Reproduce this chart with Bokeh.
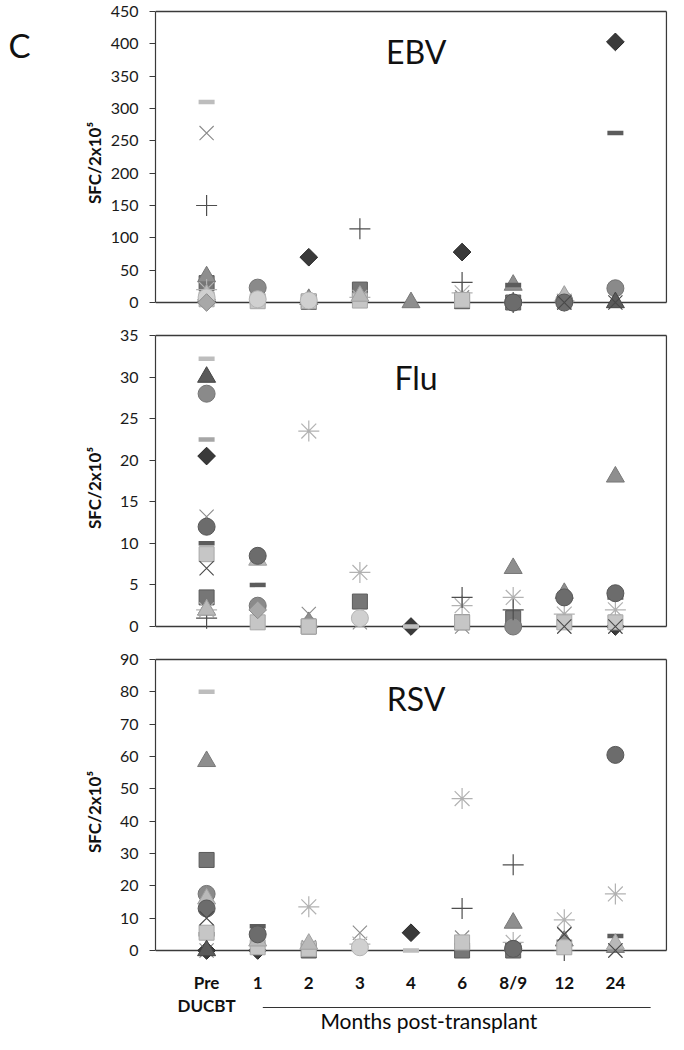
import math
from bokeh.plotting import figure
from bokeh.layouts import column, row
from bokeh.models import FixedTicker, Label, ColumnDataSource, Range1d
from bokeh.core.properties import value
from bokeh.embed import file_html
from bokeh.resources import INLINE

# ---------------- data ----------------
timepoints = ["Pre", "1", "2", "3", "4", "6", "8/9", "12", "24"]
x_positions = [1, 2, 3, 4, 5, 6, 7, 8, 9]
panel_names = ["EBV", "Flu", "RSV"]
y_max = [450, 35, 90]
y_step = [50, 5, 10]
N = None

# EBV (SFC/2x10^5), one list per patient, one value per timepoint
ebv_p01 = [2, N, 70, N, N, 78, N, N, 403]
ebv_p02 = [30, N, 1, 20, N, 2, 0, N, N]
ebv_p03 = [40, N, 5, N, 0, N, 27, 8, N]
ebv_p04 = [262, N, N, 5, N, 8, N, 0, N]
ebv_p05 = [20, N, N, 8, N, 15, N, 2, N]
ebv_p06 = [N, 23, N, N, N, N, 0, 3, 22]
ebv_p07 = [150, N, N, 114, N, 31, 0, N, N]
ebv_p08 = [310, 0, N, N, N, 0, N, N, N]
ebv_p09 = [5, N, N, N, N, N, 27, N, 262]
ebv_p10 = [5, 2, 2, 3, N, 4, N, N, N]
ebv_p11 = [12, N, N, 10, N, N, N, 10, N]
ebv_p12 = [N, N, N, N, N, N, N, N, 0]
ebv_p13 = [N, N, N, N, N, N, 0, 0, N]
ebv_p14 = [8, 5, 3, N, N, N, N, N, N]
ebv_p15 = [0, N, N, N, N, N, N, N, N]
ebv_p16 = [N, N, N, N, N, N, N, 0, 0]
ebv_p17 = [N, N, N, N, N, N, N, N, N]

# Flu
flu_p01 = [20.5, N, N, N, 0, N, N, N, 0]
flu_p02 = [3.5, N, 0, 3, N, 0.5, 1, N, N]
flu_p03 = [2, N, 0.5, N, N, N, 7, 4, 18]
flu_p04 = [13.2, N, 1.5, 0.5, N, 0, N, 0, 0]
flu_p05 = [2, N, 23.5, 6.5, N, 2.5, 3.5, 1.5, 2]
flu_p06 = [28, 2.5, N, N, N, N, 0, N, N]
flu_p07 = [1, N, N, N, N, 3.5, 2, N, N]
flu_p08 = [32.2, N, N, N, 0, 0.5, N, N, N]
flu_p09 = [10, 5, N, N, N, N, N, N, 3.5]
flu_p10 = [8.7, 0.5, 0, N, N, 0.5, N, 0.5, 0.5]
flu_p11 = [2, 8, N, N, N, N, N, N, N]
flu_p12 = [30, N, N, N, N, N, N, N, N]
flu_p13 = [12, 8.5, N, N, N, N, N, 3.5, 4]
flu_p14 = [N, N, N, 1, N, N, N, N, N]
flu_p15 = [N, 2, N, N, N, N, N, N, N]
flu_p16 = [7, N, N, N, N, N, N, 0, 0]
flu_p17 = [22.5, N, N, N, N, N, N, N, N]

# RSV
rsv_p01 = [0, 0, N, N, 5.5, N, N, N, N]
rsv_p02 = [28, N, 0, N, N, 0, 0, N, N]
rsv_p03 = [58.5, N, N, N, N, N, 8.5, 3, 1]
rsv_p04 = [0, N, 1, 5.5, N, 4, N, 5, 0]
rsv_p05 = [N, N, 13.5, 2, N, 47, 2.5, 9.5, 17.5]
rsv_p06 = [17.5, N, N, N, N, N, 0.5, N, N]
rsv_p07 = [N, N, N, N, N, 13, 26.5, 0, N]
rsv_p08 = [80, N, N, N, 0, 1, N, N, N]
rsv_p09 = [5, 7.5, N, N, N, N, N, N, 4.5]
rsv_p10 = [5.5, 1, 0.5, N, N, 2.5, N, 1, N]
rsv_p11 = [16, 3, 2, N, N, N, N, N, 2]
rsv_p12 = [0, N, N, N, N, N, N, N, N]
rsv_p13 = [13, 5, N, N, N, N, 0.5, N, 60.5]
rsv_p14 = [N, N, N, 1, N, N, N, N, N]
rsv_p15 = [N, N, N, N, N, N, N, N, N]
rsv_p16 = [10, N, N, N, N, N, N, 5, 0]
rsv_p17 = [N, N, N, N, N, N, N, N, N]

ebv_series = [ebv_p01, ebv_p02, ebv_p03, ebv_p04, ebv_p05, ebv_p06, ebv_p07, ebv_p08, ebv_p09,
              ebv_p10, ebv_p11, ebv_p12, ebv_p13, ebv_p14, ebv_p15, ebv_p16, ebv_p17]
flu_series = [flu_p01, flu_p02, flu_p03, flu_p04, flu_p05, flu_p06, flu_p07, flu_p08, flu_p09,
              flu_p10, flu_p11, flu_p12, flu_p13, flu_p14, flu_p15, flu_p16, flu_p17]
rsv_series = [rsv_p01, rsv_p02, rsv_p03, rsv_p04, rsv_p05, rsv_p06, rsv_p07, rsv_p08, rsv_p09,
              rsv_p10, rsv_p11, rsv_p12, rsv_p13, rsv_p14, rsv_p15, rsv_p16, rsv_p17]

# ---------------- styles (marker, angle, fill, line, size, line width) ----------------
D45 = math.pi / 4
styles = [
    ("square", D45, "#3a3a3a", "#262626", 12.5, 1.0),    # p01 diamond dark
    ("square", 0, "#767676", "#5a5a5a", 15, 1.0),        # p02 square
    ("triangle", 0, "#8e8e8e", "#787878", 18, 1.0),      # p03 triangle
    ("x", 0, None, "#8a8a8a", 20, 1.1),                  # p04 x
    ("asterisk", 0, None, "#b2b2b2", 21, 1.2),           # p05 asterisk
    ("circle", 0, "#8a8a8a", "#747474", 17, 1.0),        # p06 circle
    ("cross", 0, None, "#4e4e4e", 21, 1.2),              # p07 plus
    ("dash", 0, None, "#bdbdbd", 16, 4.5),               # p08 dash light
    ("dash", 0, None, "#5c5c5c", 16, 4.5),               # p09 dash dark
    ("square", 0, "#c6c6c6", "#a8a8a8", 15, 1.0),        # p10 square light
    ("triangle", 0, "#b9b9b9", "#a0a0a0", 18, 1.0),      # p11 triangle light
    ("triangle", 0, "#5a5a5a", "#444444", 18, 1.0),      # p12 triangle dark
    ("circle", 0, "#6c6c6c", "#575757", 17, 1.0),        # p13 circle dark
    ("circle", 0, "#d0d0d0", "#b4b4b4", 17, 1.0),        # p14 circle light
    ("square", D45, "#a8a8a8", "#8c8c8c", 12.5, 1.0),    # p15 diamond light
    ("x", 0, None, "#484848", 20, 1.1),                  # p16 x dark
    ("dash", 0, None, "#a6a6a6", 16, 4.5),               # p17 dash mid
]

FONT = "Lato"
W_TOTAL = 668
W_C = 40                  # narrow strip holding the panel letter
W = W_TOTAL - W_C
LEFT = 115                # frame left at picture x = 155
RIGHT = 1
X_END = 10.02
X_FRAME = 10.0

x_shared = Range1d(0, X_END)


def make_panel(name, series, ymax, ystep, height, border_top, ext_px,
               title_y, label_standoff):
    pad = 2
    frame_h = height - border_top
    pxu = (frame_h - ext_px - pad) / ymax
    y0 = -ext_px / pxu
    y1 = ymax + pad / pxu
    p = figure(width=W, height=height, x_range=x_shared, y_range=(y0, y1),
               output_backend="svg", toolbar_location=None, x_axis_location=None,
               min_border_left=LEFT, min_border_right=RIGHT,
               min_border_top=border_top, min_border_bottom=0)
    p.outline_line_color = None
    p.xgrid.visible = False
    p.ygrid.visible = False

    ya = p.yaxis[0]
    ya.ticker = FixedTicker(ticks=list(range(0, ymax + ystep, ystep)))
    ya.bounds = (0, ymax)
    ya.axis_line_color = "#3a3a3a"
    ya.axis_line_width = 1.2
    ya.major_tick_line_color = "#3a3a3a"
    ya.major_tick_out = 6
    ya.major_tick_in = 0
    ya.minor_tick_out = 0
    ya.minor_tick_in = 0
    ya.major_label_text_font = FONT
    ya.major_label_text_font_size = "16px"
    ya.major_label_text_color = "#1a1a1a"
    ya.major_label_standoff = 11
    ya.axis_label = "SFC/2x10\u2075"
    ya.axis_label_text_font = FONT
    ya.axis_label_text_font_size = "17px"
    ya.axis_label_text_font_style = "bold"
    ya.axis_label_text_color = "#111111"
    ya.axis_label_standoff = label_standoff

    # frame lines (zero line, top, right)
    p.segment(x0=[0, 0, X_FRAME], y0=[0, ymax, 0], x1=[X_FRAME, X_FRAME, X_FRAME],
              y1=[0, ymax, ymax], line_color="#3a3a3a", line_width=1.3)

    for values, (mk, ang, fill, line, size, lw) in zip(series, styles):
        xs = [x for x, v in zip(x_positions, values) if v is not None]
        ys = [v for v in values if v is not None]
        if not xs:
            continue
        src = ColumnDataSource(dict(x=xs, y=ys))
        p.scatter("x", "y", source=src, marker=mk, size=size, angle=ang,
                  fill_color=fill, line_color=line, line_width=lw)

    p.add_layout(Label(x=5.1, y=title_y, text=name, text_font=FONT, text_font_size="32px",
                       text_color="#111111", text_align="center", text_baseline="middle"))
    return p


# picture layout: panel1 0..316, panel2 316..642, panel3 642..966, x labels 966..1034
p1 = make_panel(panel_names[0], ebv_series, y_max[0], y_step[0], 316, 9, 14, 388, 3)
p2 = make_panel(panel_names[1], flu_series, y_max[1], y_step[1], 326, 17, 16, 30.0, 12)
p3 = make_panel(panel_names[2], rsv_series, y_max[2], y_step[2], 324, 15, 16, 78.0, 12)

# x labels strip (shares the x scale of the panels); y is pixels up from the strip bottom
HB = 68
pb = figure(width=W, height=HB, x_range=x_shared, y_range=(0, HB),
            output_backend="svg", toolbar_location=None,
            x_axis_location=None, y_axis_location=None,
            min_border_left=LEFT, min_border_right=RIGHT, min_border_top=0, min_border_bottom=0)
pb.outline_line_color = None
pb.xgrid.visible = False
pb.ygrid.visible = False
pb.text(x=x_positions, y=[HB - 16] * len(x_positions), text=timepoints,
        text_font=value(FONT), text_font_size=value("17px"), text_font_style=value("bold"),
        text_color="#111111", text_align="center", text_baseline="middle")
pb.text(x=[x_positions[0]], y=[HB - 39], text=["DUCBT"],
        text_font=value(FONT), text_font_size=value("17px"), text_font_style=value("bold"),
        text_color="#111111", text_align="center", text_baseline="middle")
pb.segment(x0=[2.10], y0=[HB - 41], x1=[9.69], y1=[HB - 41], line_color="#333333", line_width=1.1)
pb.text(x=[5.35], y=[HB - 54], text=["Months post-transplant"],
        text_font=value(FONT), text_font_size=value("21px"),
        text_color="#0a0a0a", text_align="center", text_baseline="middle")

# panel letter strip
pc = figure(width=W_C, height=80, x_range=(0, W_C), y_range=(0, 80),
            output_backend="svg", toolbar_location=None,
            x_axis_location=None, y_axis_location=None,
            min_border_left=0, min_border_right=0, min_border_top=0, min_border_bottom=0)
pc.outline_line_color = None
pc.xgrid.visible = False
pc.ygrid.visible = False
pc.text(x=[19], y=[80 - 44], text=["C"], text_font=value(FONT), text_font_size=value("33px"),
        text_color="#111111", text_align="center", text_baseline="middle")

layout = row(pc, column(p1, p2, p3, pb, spacing=0), spacing=0)
open("out.html", "w").write(file_html(layout, INLINE))
